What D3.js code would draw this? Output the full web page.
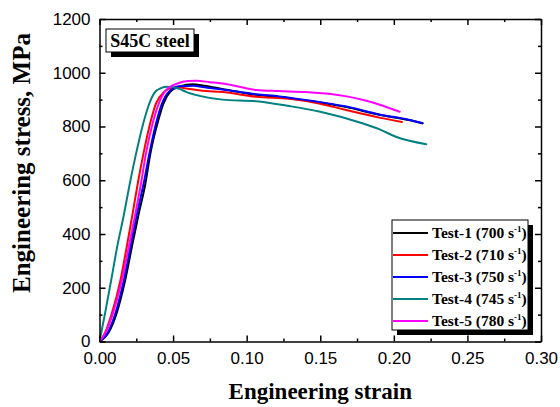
<!DOCTYPE html>
<html><head><meta charset="utf-8">
<script src="https://cdn.jsdelivr.net/npm/d3@7/dist/d3.min.js"></script>
<style>
html,body{margin:0;padding:0;background:#fff;}
svg{display:block;}
</style></head>
<body>
<svg id="chart" width="560" height="407"></svg>
<script>
// ---- data ----
const seriesNames = ["Test-1", "Test-2", "Test-3", "Test-4", "Test-5"];
const strainRates = ["700", "710", "750", "745", "780"];
const seriesColors = ["#000000", "#ff0000", "#0000ff", "#008080", "#ff00ff"];

const test1 = [[0,0],[0.006,32],[0.0115,103],[0.0174,227],[0.022,352],[0.0267,476],[0.0312,588],[0.0346,700],[0.040,824],[0.0435,886],[0.048,929],[0.055,950],[0.063,957],[0.071,952],[0.0835,940],[0.1065,918],[0.122,910],[0.145,893],[0.167,873],[0.19,844],[0.21,824],[0.2195,812]];
const test2 = [[0,0],[0.0037,32],[0.0083,103],[0.0142,227],[0.0185,352],[0.0225,476],[0.026,588],[0.0299,700],[0.035,824],[0.0384,886],[0.0441,929],[0.049,944],[0.054,946],[0.0588,941],[0.07,933],[0.0835,928],[0.1065,911],[0.129,903],[0.15,885],[0.167,862],[0.19,833],[0.2055,817]];
const test3 = [[0,0],[0.0055,32],[0.0107,103],[0.0165,227],[0.021,352],[0.0255,476],[0.030,588],[0.0339,700],[0.039,824],[0.0425,886],[0.047,929],[0.0543,950],[0.064,952],[0.07,947],[0.0835,938],[0.1065,920],[0.122,912],[0.145,895],[0.167,875],[0.19,845],[0.21,825],[0.2195,812]];
const test4 = [[0,0],[0.0037,103],[0.0079,227],[0.012,352],[0.0165,470],[0.0205,585],[0.0244,688],[0.0299,815],[0.0335,880],[0.0373,925],[0.0418,943],[0.046,948],[0.050,946],[0.0543,940],[0.0588,929],[0.068,914],[0.0835,900],[0.1065,894],[0.129,876],[0.15,855],[0.1786,812],[0.19,790],[0.2014,762],[0.222,734]];
const test5 = [[0,0],[0.004,32],[0.009,103],[0.0152,227],[0.0199,352],[0.0244,476],[0.0282,588],[0.0316,700],[0.0367,824],[0.0403,886],[0.0452,935],[0.0531,960],[0.06,969],[0.066,970],[0.075,965],[0.0835,960],[0.095,948],[0.1065,936],[0.122,932],[0.14,928],[0.167,913],[0.18,898],[0.19,882],[0.204,855]];
const allSeries = [test1, test2, test3, test4, test5];

const xTicks = [0, 0.05, 0.10, 0.15, 0.20, 0.25, 0.30];
const yTicks = [0, 200, 400, 600, 800, 1000, 1200];
const xMinor = [0.025, 0.075, 0.125, 0.175, 0.225, 0.275];
const yMinor = [100, 300, 500, 700, 900, 1100];

const materialLabel = "S45C steel";
const xTitle = "Engineering strain";
const yTitle = "Engineering stress, MPa";

// ---- layout ----
const L = 99.5, R = 541, T = 19, B = 341.5;
const svg = d3.select("#chart");
const x = d3.scaleLinear().domain([0, 0.30]).range([L, R]);
const y = d3.scaleLinear().domain([0, 1200]).range([B, T]);

const tickFont = "'Liberation Sans', Arial, sans-serif";
const serif = "'Liberation Serif', 'Times New Roman', serif";

// curves
const clipId = "plotclip";
svg.append("clipPath").attr("id", clipId).append("rect")
  .attr("x", L).attr("y", T).attr("width", R - L).attr("height", B - T);
const line = d3.line().x(d => x(d[0])).y(d => y(d[1])).curve(d3.curveMonotoneX);
const curves = svg.append("g").attr("clip-path", `url(#${clipId})`);
allSeries.forEach((s, i) => {
  curves.append("path").datum(s).attr("d", line)
    .attr("fill", "none").attr("stroke", seriesColors[i])
    .attr("stroke-width", 2).attr("stroke-linejoin", "round").attr("stroke-linecap", "round");
});

// axes
function styleAxis(g) {
  g.selectAll("path.domain").attr("stroke", "#000").attr("stroke-width", 1.5);
  g.selectAll(".tick line").attr("stroke", "#000").attr("stroke-width", 1.5);
  g.selectAll(".tick text").attr("fill", "#000").style("font-family", tickFont).style("font-size", "17px");
}
const gx = svg.append("g").attr("transform", `translate(0,${B})`)
  .call(d3.axisBottom(x).tickValues(xTicks).tickFormat(d3.format(".2f")).tickSizeInner(-6).tickSizeOuter(0).tickPadding(10));
styleAxis(gx);
gx.selectAll(".tick text").attr("dy", "0.71em");
const gxm = svg.append("g").attr("transform", `translate(0,${B})`)
  .call(d3.axisBottom(x).tickValues(xMinor).tickFormat("").tickSizeInner(-3).tickSizeOuter(0));
styleAxis(gxm); gxm.select("path.domain").remove();

const gy = svg.append("g").attr("transform", `translate(${L},0)`)
  .call(d3.axisLeft(y).tickValues(yTicks).tickFormat(d3.format("d")).tickSizeInner(-6).tickSizeOuter(0).tickPadding(9));
styleAxis(gy);
const gym = svg.append("g").attr("transform", `translate(${L},0)`)
  .call(d3.axisLeft(y).tickValues(yMinor).tickFormat("").tickSizeInner(-3).tickSizeOuter(0));
styleAxis(gym); gym.select("path.domain").remove();

const gt = svg.append("g").attr("transform", `translate(0,${T})`)
  .call(d3.axisTop(x).tickValues(xTicks).tickFormat("").tickSizeInner(-6).tickSizeOuter(0));
styleAxis(gt);
const gtm = svg.append("g").attr("transform", `translate(0,${T})`)
  .call(d3.axisTop(x).tickValues(xMinor).tickFormat("").tickSizeInner(-3).tickSizeOuter(0));
styleAxis(gtm); gtm.select("path.domain").remove();

const gr = svg.append("g").attr("transform", `translate(${R},0)`)
  .call(d3.axisRight(y).tickValues(yTicks).tickFormat("").tickSizeInner(-6).tickSizeOuter(0));
styleAxis(gr);
const grm = svg.append("g").attr("transform", `translate(${R},0)`)
  .call(d3.axisRight(y).tickValues(yMinor).tickFormat("").tickSizeInner(-3).tickSizeOuter(0));
styleAxis(grm); grm.select("path.domain").remove();

// axis titles
svg.append("text").attr("x", (L + R) / 2).attr("y", 399)
  .attr("text-anchor", "middle").style("font-family", serif).style("font-weight", "bold")
  .style("font-size", "23px").text(xTitle);
svg.append("text").attr("transform", `translate(30,163) rotate(-90)`)
  .attr("text-anchor", "middle").style("font-family", serif).style("font-weight", "bold")
  .style("font-size", "25px").text(yTitle);

// material label box
const lb = {x: 106, y: 29, w: 88, h: 23};
svg.append("rect").attr("x", lb.x + 5).attr("y", lb.y + 5).attr("width", lb.w).attr("height", lb.h).attr("fill", "#000");
svg.append("rect").attr("x", lb.x).attr("y", lb.y).attr("width", lb.w).attr("height", lb.h)
  .attr("fill", "#fff").attr("stroke", "#000").attr("stroke-width", 1);
svg.append("text").attr("x", lb.x + lb.w / 2).attr("y", lb.y + 17.5).attr("text-anchor", "middle")
  .style("font-family", serif).style("font-weight", "bold").style("font-size", "18px").text(materialLabel);

// legend
const lg = {x: 392, y: 220, w: 136, h: 110};
svg.append("rect").attr("x", lg.x + 5).attr("y", lg.y + 5).attr("width", lg.w).attr("height", lg.h).attr("fill", "#000");
svg.append("rect").attr("x", lg.x).attr("y", lg.y).attr("width", lg.w).attr("height", lg.h)
  .attr("fill", "#fff").attr("stroke", "#000").attr("stroke-width", 1);
seriesNames.forEach((n, i) => {
  const yy = 233 + i * 22;
  svg.append("line").attr("x1", 393).attr("x2", 428).attr("y1", yy).attr("y2", yy)
    .attr("stroke", seriesColors[i]).attr("stroke-width", 2);
  const t = svg.append("text").attr("x", 432).attr("y", yy + 5)
    .style("font-family", serif).style("font-weight", "bold").style("font-size", "15.5px");
  t.append("tspan").text(`${n} (${strainRates[i]} s`);
  t.append("tspan").attr("dy", -6).style("font-size", "9px").text("-1");
  t.append("tspan").attr("dy", 6).text(")");
});
</script>
</body></html>
